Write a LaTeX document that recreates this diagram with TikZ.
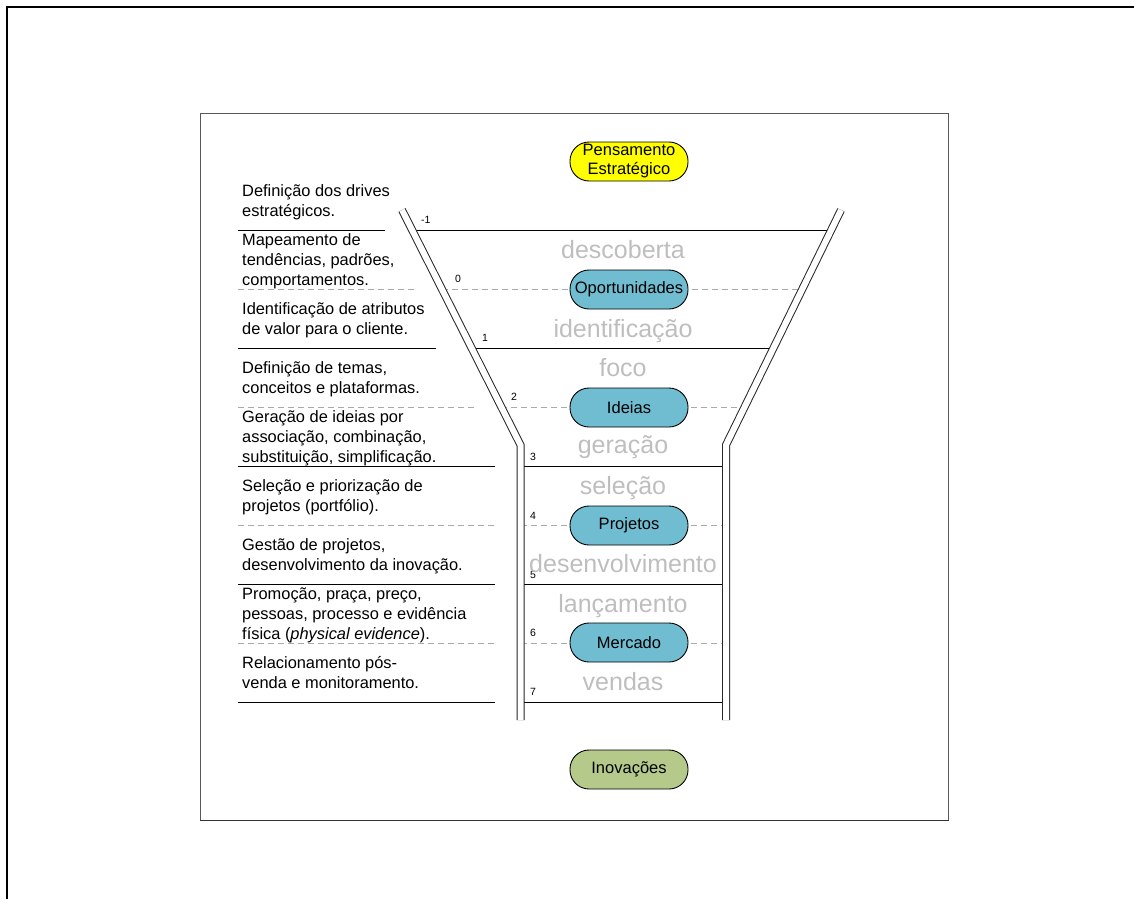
\documentclass[tikz,border=0pt]{standalone}
\usepackage{fontspec}
\setmainfont{Liberation Sans}
\definecolor{tealc}{RGB}{112,188,208}
\definecolor{yelc}{RGB}{255,255,0}
\definecolor{olvc}{RGB}{181,201,139}
\definecolor{lblc}{RGB}{190,190,190}
\definecolor{dshc}{RGB}{170,170,170}
\begin{document}
\begin{tikzpicture}[x=1pt,y=-1pt,
  stage/.style={draw=black, line width=0.9pt, rounded corners=19pt, minimum width=118pt, minimum height=39pt, inner sep=0pt, font=\fontsize{16.5}{19}\selectfont, align=center},
  glbl/.style={text=lblc, font=\fontsize{25}{30}\selectfont, inner sep=0pt, anchor=base},
  num/.style={font=\fontsize{10.5}{12}\selectfont, inner sep=0pt, anchor=west},
  desc/.style={font=\fontsize{16.4}{20}\selectfont, align=left, anchor=base west, inner sep=0pt},
  sep/.style={line width=1pt, black},
  dsep/.style={line width=0.8pt, dshc, dash pattern=on 6pt off 4pt},
  wall/.style={double, double distance=6pt, line width=1pt, draw=black!85}]

\useasboundingbox (0,0) rectangle (1134,899);
\draw[line width=2.5pt] (7,899) -- (7,7) -- (1134,7);
\draw[line width=0.8pt, black!65] (200,113) rectangle (948,820);
\draw[line width=1.6pt, black!80] (200,820.5) -- (948.5,820.5);

% funnel horizontals (wall centre to wall centre)
\draw[sep]  (412.1,230) -- (831.2,230);
\draw[dsep] (441.8,289) -- (802.3,289);
\draw[sep]  (471.6,348) -- (773.5,348);
\draw[dsep] (501.3,407) -- (744.6,407);
\draw[sep]  (520.5,466) -- (726,466);
\draw[dsep] (520.5,525) -- (726,525);
\draw[sep]  (520.5,584) -- (726,584);
\draw[dsep] (520.5,643) -- (726,643);
\draw[sep]  (520.5,702) -- (726,702);

% left separators
\draw[sep]  (238,230) -- (385,230);
\draw[dsep] (238,289) -- (417,289);
\draw[sep]  (238,348) -- (436,348);
\draw[dsep] (238,407) -- (477,407);
\draw[sep]  (238,466) -- (495,466);
\draw[dsep] (238,525) -- (495,525);
\draw[sep]  (238,584) -- (495,584);
\draw[dsep] (238,643) -- (495,643);
\draw[sep]  (238,702) -- (495,702);

% funnel walls
\draw[wall] (402,210) -- (520.5,445) -- (520.5,720);
\draw[wall] (841,210) -- (726,445) -- (726,720);

% numbers
\node[num] (n-1) at (421,220) {-1};
\node[num] (n0) at (455,279) {0};
\node[num] (n1) at (482,338) {1};
\node[num] (n2) at (511,397) {2};
\node[num] (n3) at (530,457) {3};
\node[num] (n4) at (530,516) {4};
\node[num] (n5) at (530,575) {5};
\node[num] (n6) at (530,633) {6};
\node[num] (n7) at (530,692) {7};

% grey stage labels
\node[glbl] (l1) at (623,258) {descoberta};
\node[glbl] (l2) at (623,337) {identificação};
\node[glbl] (l3) at (623,376) {foco};
\node[glbl] (l4) at (623,453) {geração};
\node[glbl] (l5) at (623,494) {seleção};
\node[glbl] (l6) at (623,572) {desenvolvimento};
\node[glbl] (l7) at (623,612) {lançamento};
\node[glbl] (l8) at (623,690) {vendas};

% stage nodes
\node[stage, fill=yelc]  (pe)  at (629,161.5) {Pensamento\\Estratégico};
\node[stage, fill=tealc] (op)  at (629,289.5) {Oportunidades};
\node[stage, fill=tealc] (id)  at (629,407.5) {Ideias};
\node[stage, fill=tealc] (pr)  at (629,525.5) {Projetos};
\node[stage, fill=tealc] (me)  at (629,642.5) {Mercado};
\node[stage, fill=olvc]  (in)  at (629,769.5) {Inovações};

% descriptions (anchor on last baseline)
\node[desc] (d1) at (242,216) {Definição dos drives\\estratégicos.};
\node[desc] (d2) at (242,285) {Mapeamento de\\tendências, padrões,\\comportamentos.};
\node[desc] (d3) at (242,334) {Identificação de atributos\\de valor para o cliente.};
\node[desc] (d4) at (242,393) {Definição de temas,\\conceitos e plataformas.};
\node[desc] (d5) at (242,462) {Geração de ideias por\\associação, combinação,\\substituição, simplificação.};
\node[desc] (d6) at (242,511) {Seleção e priorização de\\projetos (portfólio).};
\node[desc] (d7) at (242,570) {Gestão de projetos,\\desenvolvimento da inovação.};
\node[desc] (d8) at (242,639) {Promoção, praça, preço,\\pessoas, processo e evidência\\física (\textit{physical evidence}).};
\node[desc] (d9) at (242,688) {Relacionamento pós-\\venda e monitoramento.};
\end{tikzpicture}
\end{document}
